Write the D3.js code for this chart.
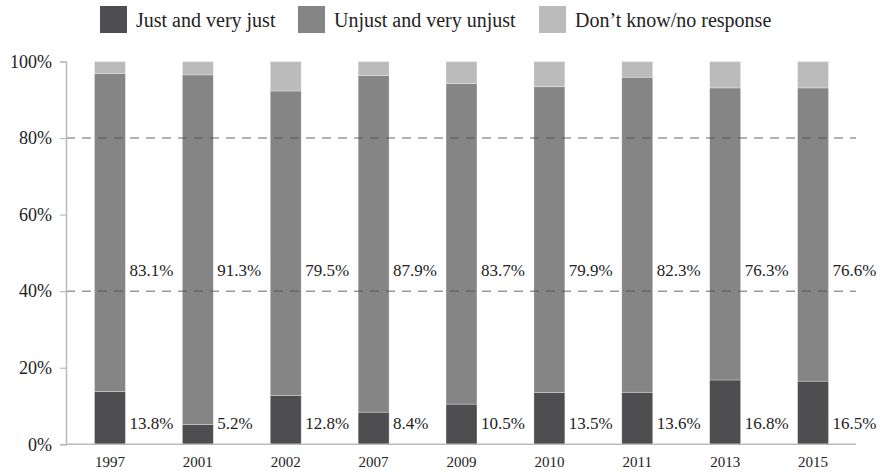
<!DOCTYPE html>
<html><head><meta charset="utf-8">
<script src="https://cdn.jsdelivr.net/npm/d3@7"></script>
<style>body{margin:0;background:#fff}svg{display:block}text{font-family:"Liberation Serif","DejaVu Serif",serif;fill:#222}</style>
</head><body><svg id="c" width="887" height="473"></svg>
<script>
const years = ["1997","2001","2002","2007","2009","2010","2011","2013","2015"];
const just = [13.8, 5.2, 12.8, 8.4, 10.5, 13.5, 13.6, 16.8, 16.5];
const unjust = [83.1, 91.3, 79.5, 87.9, 83.7, 79.9, 82.3, 76.3, 76.6];
const dontKnow = [3.1, 3.5, 7.7, 3.7, 5.8, 6.6, 4.1, 6.9, 6.9];
const seriesNames = ["Just and very just","Unjust and very unjust","Don\u2019t know/no response"];
const colors = ["#4e4e50","#858586","#bbbbbc"];
const yTicks = [0,20,40,60,80,100];
const gridTicks = [40,80];

const svg = d3.select("#c");
const m = {l:66, r:30, t:61.5, b:29};
const x = d3.scaleBand().domain(years).range([m.l, 857]).paddingInner(0.648).paddingOuter(0.324);
const y = d3.scaleLinear().domain([0,100]).range([444.3, 61.5]);

const rows = years.map((yr,i)=>({year:yr, just:just[i], unjust:unjust[i], dk:dontKnow[i]}));
const stack = d3.stack().keys(["just","unjust","dk"])(rows);

const g = svg.append("g");
stack.forEach((s,si)=>{
  g.selectAll(null).data(s).enter().append("rect")
    .attr("x", d=>x(d.data.year))
    .attr("width", x.bandwidth())
    .attr("y", d=>y(Math.min(d[1],100)))
    .attr("height", d=>y(d[0]) - y(Math.min(d[1],100)))
    .attr("fill", colors[si])
    .attr("stroke","#fff").attr("stroke-opacity",0.5).attr("stroke-width",0.6);
});

// gridlines
svg.selectAll(null).data(gridTicks).enter().append("line")
  .attr("x1", m.l).attr("x2", 856)
  .attr("y1", d=>y(d)).attr("y2", d=>y(d))
  .attr("stroke","#555").attr("stroke-opacity",0.6).attr("stroke-width",1.4)
  .attr("stroke-dasharray","9,7");

// axes
const yAxis = d3.axisLeft(y).tickValues(yTicks).tickFormat(d=>d+"%").tickSize(6).tickPadding(8);
const ya = svg.append("g").attr("transform",`translate(${m.l},0)`).call(yAxis);
ya.select(".domain").attr("stroke","#bbb").attr("stroke-width",1.5);
ya.selectAll(".tick line").attr("stroke","#bbb").attr("stroke-width",1.2);
ya.selectAll("text").style("font-size","18px").attr("fill","#222");

const xAxis = d3.axisBottom(x).tickSize(0).tickPadding(12);
const xa = svg.append("g").attr("transform",`translate(0,${y(0)})`).call(xAxis);
xa.select(".domain").attr("stroke","#bbb").attr("stroke-width",1.5).attr("d",`M${m.l},0H856`);
xa.selectAll("text").style("font-size","15px").attr("fill","#222");

// value labels
const lab = svg.append("g");
lab.selectAll(null).data(rows).enter().append("text")
  .attr("x", d=>x(d.year)+x.bandwidth()+4)
  .attr("y", y(45.5)).attr("dy","0.35em")
  .style("font-size","17px")
  .text(d=>d.unjust.toFixed(1)+"%");
lab.selectAll(null).data(rows).enter().append("text")
  .attr("x", d=>x(d.year)+x.bandwidth()+4)
  .attr("y", y(5.5)).attr("dy","0.35em")
  .style("font-size","17px")
  .text(d=>d.just.toFixed(1)+"%");

// legend
const legX = [100, 298, 539];
const leg = svg.append("g");
seriesNames.forEach((n,i)=>{
  leg.append("rect").attr("x",legX[i]).attr("y",6).attr("width",27).attr("height",27).attr("fill",colors[i]);
  leg.append("text").attr("x",legX[i]+36).attr("y",27).style("font-size","20px").text(n);
});
</script></body></html>
